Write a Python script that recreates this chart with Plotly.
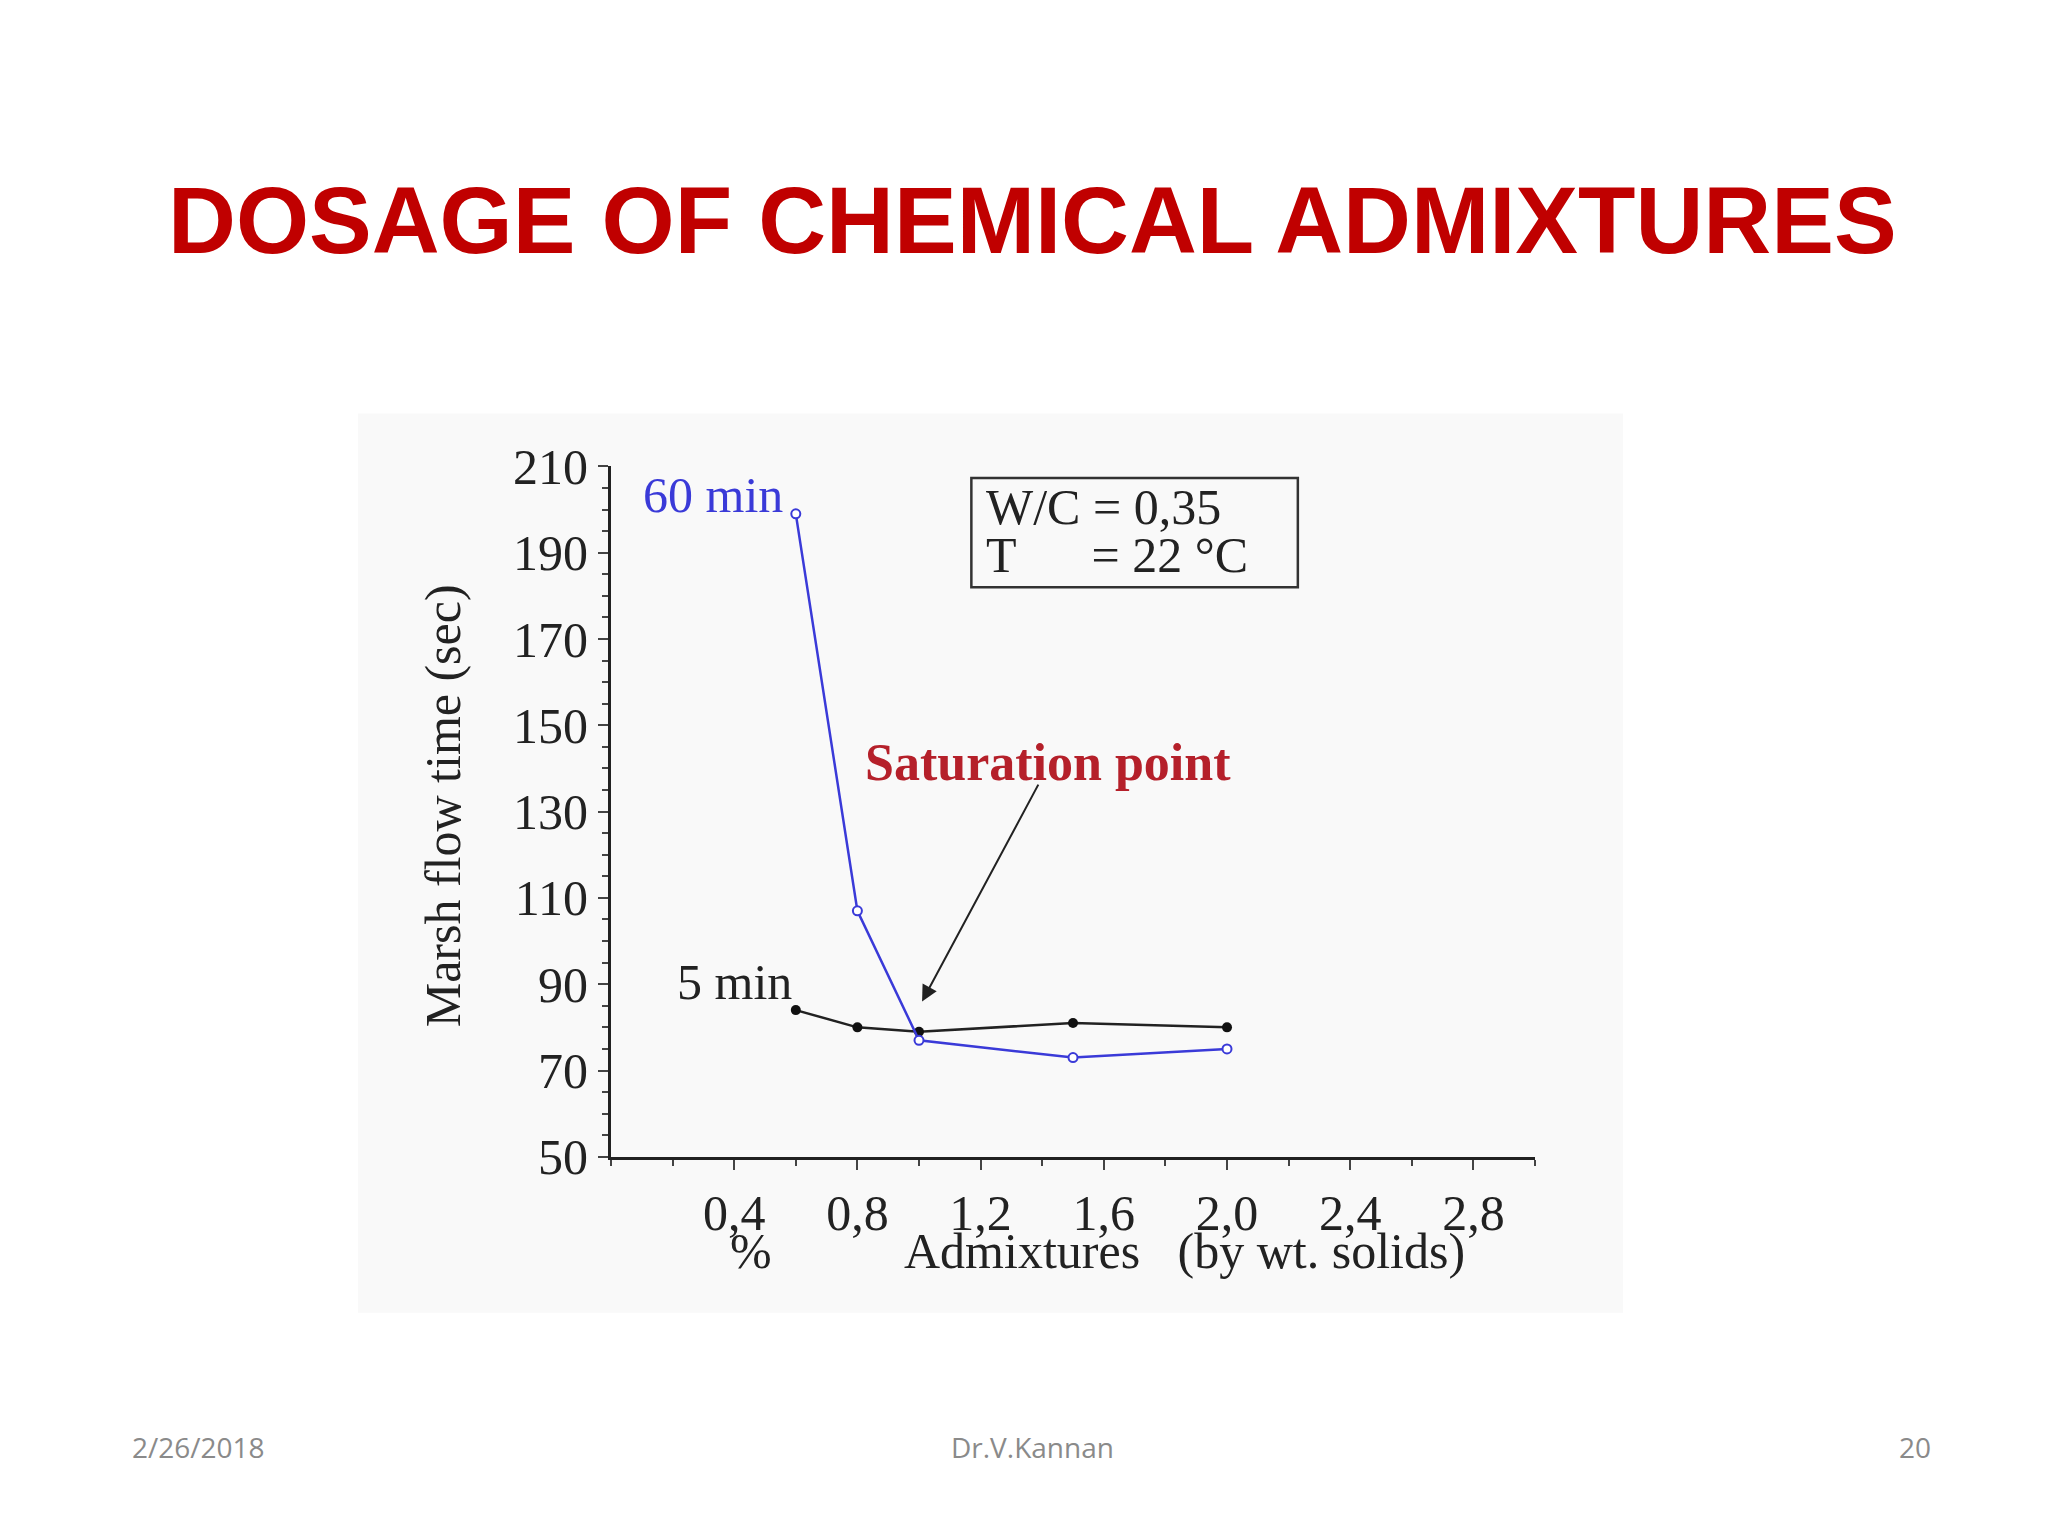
import plotly.graph_objects as go

# --- data ---
dose = [0.6, 0.8, 1.0, 1.5, 2.0]
flow_60min = [199, 107, 77, 73, 75]
flow_5min = [84, 80, 79, 81, 80]
x_ticks = [0.4, 0.8, 1.2, 1.6, 2.0, 2.4, 2.8]
x_tick_labels = ["0,4", "0,8", "1,2", "1,6", "2,0", "2,4", "2,8"]
y_ticks = [50, 70, 90, 110, 130, 150, 170, 190, 210]

SERIF = "Liberation Serif"
fig = go.Figure()

fig.add_trace(go.Scatter(x=dose, y=flow_5min, mode="lines+markers",
                         line=dict(color="#222222", width=2.5),
                         marker=dict(color="#111111", size=10)))
fig.add_trace(go.Scatter(x=dose, y=flow_60min, mode="lines+markers",
                         line=dict(color="#3a3ad8", width=2.5),
                         marker=dict(color="white", size=9, symbol="circle",
                                     line=dict(color="#3a3ad8", width=2))))

# light panel behind the chart, as in the slide
fig.add_shape(type="rect", xref="paper", yref="paper", layer="below",
              x0=350/2048, x1=1615/2048, y0=1-1326/1536, y1=1-392/1536,
              fillcolor="#f9f9f9", line=dict(width=0))
# W/C box
fig.add_shape(type="rect", x0=1.17, x1=2.23, y0=182, y1=207.3,
              line=dict(color="#333333", width=2.5), fillcolor="rgba(0,0,0,0)")

tf = dict(family=SERIF, size=50, color="#222222")
fig.add_annotation(x=1.21, y=200.5, text="W/C = 0,35", showarrow=False, xanchor="left", font=tf)
fig.add_annotation(x=1.21, y=189.5, text="T&nbsp;&nbsp;&nbsp;&nbsp;&nbsp;&nbsp;= 22 °C", showarrow=False, xanchor="left", font=tf)
fig.add_annotation(x=0.33, y=203.4, text="60 min", showarrow=False,
                   font=dict(family=SERIF, size=50, color="#3a3ad8"))
fig.add_annotation(x=0.40, y=90.5, text="5 min", showarrow=False, font=tf)
fig.add_annotation(x=1.42, y=141.4, text="<b>Saturation point</b>", showarrow=False,
                   font=dict(family=SERIF, size=52, color="#b5202a"))
fig.add_annotation(x=1.01, y=86, ax=1.39, ay=136.6, axref="x", ayref="y",
                   text="", showarrow=True, arrowhead=2, arrowsize=1.6,
                   arrowwidth=2, arrowcolor="#222222")

# x-axis title pieces
fig.add_annotation(xref="paper", yref="paper", x=743/2048, y=1-1293/1536,
                   text="%", showarrow=False, font=tf)
fig.add_annotation(xref="paper", yref="paper", x=1176/2048, y=1-1293/1536,
                   text="Admixtures&nbsp;&nbsp;&nbsp;(by wt. solids)", showarrow=False, font=tf)
# y-axis title
fig.add_annotation(xref="paper", yref="paper", x=405/2048, y=1-800/1536, textangle=-90,
                   text="Marsh flow time (sec)", showarrow=False, font=tf)

# slide title and footer
fig.add_annotation(xref="paper", yref="paper", x=0.5, y=1-192/1536, yanchor="middle",
                   text="<b>DOSAGE OF CHEMICAL ADMIXTURES</b>", showarrow=False,
                   font=dict(family="Liberation Sans", size=94, color="#c00000"))
ff = dict(family="Open Sans", size=28, color="#8a8a8a")
fig.add_annotation(xref="paper", yref="paper", x=122/2048, y=1-1465/1536, xanchor="left",
                   yanchor="middle", text="2/26/2018", showarrow=False, font=ff)
fig.add_annotation(xref="paper", yref="paper", x=0.5, y=1-1465/1536, yanchor="middle",
                   text="Dr.V.Kannan", showarrow=False, font=ff)
fig.add_annotation(xref="paper", yref="paper", x=1925/2048, y=1-1465/1536, xanchor="right",
                   yanchor="middle", text="20", showarrow=False, font=ff)

fig.update_layout(
    width=2048, height=1536, margin=dict(l=0, r=0, t=0, b=0),
    paper_bgcolor="white", plot_bgcolor="rgba(0,0,0,0)", showlegend=False,
    xaxis=dict(domain=[603/2048, 1527/2048], range=[0, 3.0],
               tickvals=x_ticks, ticktext=x_tick_labels,
               ticks="outside", ticklen=10, tickwidth=2, showgrid=False, zeroline=False,
               showline=True, linecolor="#222222", linewidth=3,
               minor=dict(dtick=0.2, tick0=0, ticks="outside", ticklen=6, tickwidth=2),
               tickfont=tf),
    yaxis=dict(domain=[1-1164/1536, 1-447/1536], range=[50, 210],
               tickvals=y_ticks, ticks="outside", ticklen=10, tickwidth=2,
               showgrid=False, zeroline=False,
               showline=True, linecolor="#222222", linewidth=3,
               minor=dict(dtick=5, tick0=50, ticks="outside", ticklen=6, tickwidth=2),
               tickfont=tf),
)

fig.write_html("out.html")
